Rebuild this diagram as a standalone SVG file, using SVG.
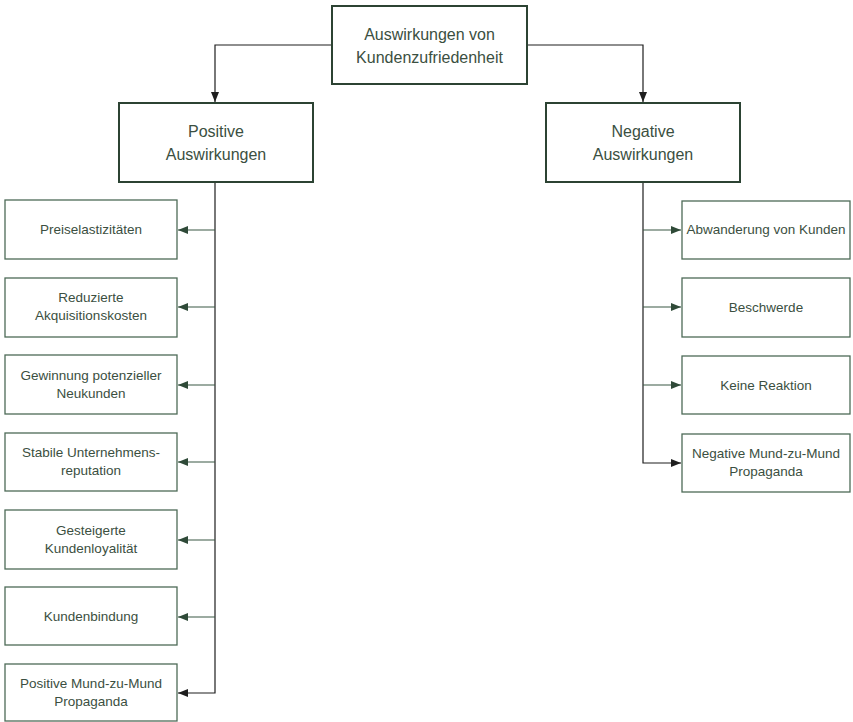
<svg xmlns="http://www.w3.org/2000/svg" width="853" height="722" viewBox="0 0 853 722">
  <defs>
    <marker id="ahG" viewBox="0 0 10 8" refX="10" refY="4" markerWidth="10" markerHeight="8" markerUnits="userSpaceOnUse" orient="auto">
      <path d="M0,0 L10,4 L0,8 Z" fill="#2f4a38"/>
    </marker>
    <marker id="ahK" viewBox="0 0 10 8" refX="10" refY="4" markerWidth="10" markerHeight="8" markerUnits="userSpaceOnUse" orient="auto">
      <path d="M0,0 L10,4 L0,8 Z" fill="#1e1e1e"/>
    </marker>
  </defs>
  <style>
    .main { fill: #ffffff; stroke: #2c4333; stroke-width: 2; }
    .leaf { fill: #ffffff; stroke: #4d6a57; stroke-width: 1.3; }
    .t { font-family: "Liberation Sans", Arial, sans-serif; fill: #3b4f41; text-anchor: middle; }
    .big { font-size: 16px; }
    .small { font-size: 13.5px; }
    .k { fill: none; stroke: #1e1e1e; stroke-width: 1.2; }
    .g { fill: none; stroke: #3a5844; stroke-width: 1.2; }
  </style>
  <rect width="853" height="722" fill="#ffffff"/>

  <!-- connectors -->
  <g id="connectors">
    <path class="k" d="M332,45 H215 V102" marker-end="url(#ahK)"/>
    <path class="k" d="M527,45 H643 V102" marker-end="url(#ahK)"/>
    <!-- left trunk -->
    <path class="k" d="M215,182 V693 H178" marker-end="url(#ahK)"/>
    <path class="g" d="M215,230 H178" marker-end="url(#ahG)"/>
    <path class="g" d="M215,307 H178" marker-end="url(#ahG)"/>
    <path class="g" d="M215,385 H178" marker-end="url(#ahG)"/>
    <path class="g" d="M215,462 H178" marker-end="url(#ahG)"/>
    <path class="g" d="M215,540 H178" marker-end="url(#ahG)"/>
    <path class="g" d="M215,617 H178" marker-end="url(#ahG)"/>
    <!-- right trunk -->
    <path class="k" d="M643,182 V463 H681" marker-end="url(#ahK)"/>
    <path class="g" d="M643,230 H681" marker-end="url(#ahG)"/>
    <path class="g" d="M643,307 H681" marker-end="url(#ahG)"/>
    <path class="g" d="M643,385 H681" marker-end="url(#ahG)"/>
  </g>

  <!-- top node -->
  <g id="root">
    <rect class="main" x="332" y="6" width="195" height="78"/>
    <text class="t big" x="429.5" y="40">Auswirkungen von</text>
    <text class="t big" x="429.5" y="63">Kundenzufriedenheit</text>
  </g>

  <g id="positive">
    <rect class="main" x="119" y="103" width="194" height="79"/>
    <text class="t big" x="216" y="137">Positive</text>
    <text class="t big" x="216" y="160">Auswirkungen</text>
  </g>

  <g id="negative">
    <rect class="main" x="546" y="103" width="194" height="79"/>
    <text class="t big" x="643" y="137">Negative</text>
    <text class="t big" x="643" y="160">Auswirkungen</text>
  </g>

  <!-- positive effects -->
  <g id="p1">
    <rect class="leaf" x="5" y="200" width="172" height="59"/>
    <text class="t small" x="91" y="234">Preiselastizitäten</text>
  </g>
  <g id="p2">
    <rect class="leaf" x="5" y="278" width="172" height="59"/>
    <text class="t small" x="91" y="302">Reduzierte</text>
    <text class="t small" x="91" y="320">Akquisitionskosten</text>
  </g>
  <g id="p3">
    <rect class="leaf" x="5" y="355" width="172" height="59"/>
    <text class="t small" x="91" y="380">Gewinnung potenzieller</text>
    <text class="t small" x="91" y="398">Neukunden</text>
  </g>
  <g id="p4">
    <rect class="leaf" x="5" y="433" width="172" height="58"/>
    <text class="t small" x="91" y="457">Stabile Unternehmens-</text>
    <text class="t small" x="91" y="475">reputation</text>
  </g>
  <g id="p5">
    <rect class="leaf" x="5" y="510" width="172" height="59"/>
    <text class="t small" x="91" y="535">Gesteigerte</text>
    <text class="t small" x="91" y="553">Kundenloyalität</text>
  </g>
  <g id="p6">
    <rect class="leaf" x="5" y="587" width="172" height="58"/>
    <text class="t small" x="91" y="621">Kundenbindung</text>
  </g>
  <g id="p7">
    <rect class="leaf" x="5" y="664" width="172" height="57"/>
    <text class="t small" x="91" y="688">Positive Mund-zu-Mund</text>
    <text class="t small" x="91" y="706">Propaganda</text>
  </g>

  <!-- negative effects -->
  <g id="n1">
    <rect class="leaf" x="682" y="201" width="168" height="58"/>
    <text class="t small" x="766" y="234">Abwanderung von Kunden</text>
  </g>
  <g id="n2">
    <rect class="leaf" x="682" y="278" width="168" height="59"/>
    <text class="t small" x="766" y="312">Beschwerde</text>
  </g>
  <g id="n3">
    <rect class="leaf" x="682" y="356" width="168" height="58"/>
    <text class="t small" x="766" y="390">Keine Reaktion</text>
  </g>
  <g id="n4">
    <rect class="leaf" x="682" y="434" width="168" height="58"/>
    <text class="t small" x="766" y="458">Negative Mund-zu-Mund</text>
    <text class="t small" x="766" y="476">Propaganda</text>
  </g>
</svg>
